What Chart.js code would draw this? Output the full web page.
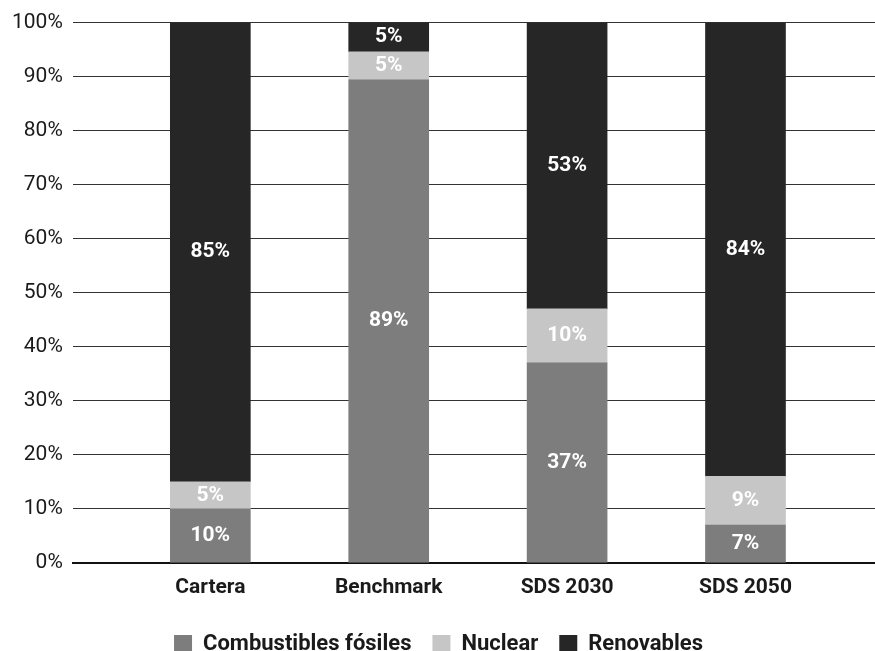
<!DOCTYPE html>
<html>
<head>
<meta charset="utf-8">
<script src="https://cdn.jsdelivr.net/npm/chart.js@4"></script>
<style>
    html, body { margin: 0; padding: 0; background: #fff; }
    #wrap { width: 875px; height: 651px; }
</style>
</head>
<body>
<div id="wrap"><canvas id="mixChart"></canvas></div>
<script>
// Categories and series (% of total)
const categories = ['Cartera', 'Benchmark', 'SDS 2030', 'SDS 2050'];
const fossil = [10, 89.4, 37, 7];
const nuclear = [5, 5.2, 10, 9];
const renewables = [85, 5.4, 53, 84];
const yTicks = [0, 10, 20, 30, 40, 50, 60, 70, 80, 90, 100];

// Grey scale palette like the printed original
const fossilColor = '#7d7d7d';
const nuclearColor = '#c6c6c6';
const renewColor = '#262626';

// bars sit on a linear x scale so the gridlines can run wider than the bars
const toPoints = arr => arr.map((v, i) => ({ x: i, y: v }));

// white value labels in the middle of each segment
const segmentLabels = {
    id: 'segmentLabels',
    afterDatasetsDraw(chart) {
        const ctx = chart.ctx;
        ctx.save();
        ctx.fillStyle = '#ffffff';
        ctx.font = 'bold 21px Roboto';
        ctx.textAlign = 'center';
        ctx.textBaseline = 'middle';
        chart.data.datasets.forEach((ds, di) => {
            chart.getDatasetMeta(di).data.forEach((bar, i) => {
                const p = bar.getProps(['x', 'y', 'base'], true);
                ctx.fillText(Math.round(ds.data[i].y) + '%', p.x, (p.y + p.base) / 2);
            });
        });
        ctx.restore();
    }
};

const ctx = document.getElementById('mixChart').getContext('2d');
new Chart(ctx, {
    type: 'bar',
    data: {
        datasets: [
            { label: 'Combustibles fósiles', data: toPoints(fossil), backgroundColor: fossilColor },
            { label: 'Nuclear', data: toPoints(nuclear), backgroundColor: nuclearColor },
            { label: 'Renovables', data: toPoints(renewables), backgroundColor: renewColor }
        ]
    },
    options: {
        responsive: true,
        maintainAspectRatio: false,
        animation: false,
        layout: { padding: { left: 2, right: 0, top: 10, bottom: -14 } },
        datasets: { bar: { barThickness: 80, borderWidth: 0 } },
        plugins: {
            legend: {
                position: 'bottom',
                labels: {
                    color: '#1a1a1a',
                    font: { family: 'Roboto', size: 22, weight: 'bold' },
                    boxWidth: 18,
                    boxHeight: 18,
                    padding: 21
                }
            },
            tooltip: { enabled: false }
        },
        scales: {
            x: {
                type: 'linear',
                stacked: true,
                offset: false,
                min: -0.771,
                max: 3.726,
                grid: { display: false, drawTicks: false },
                border: { color: '#111', width: 2 },
                afterBuildTicks: scale => {
                    scale.ticks = categories.map((c, i) => ({ value: i }));
                },
                ticks: {
                    color: '#1a1a1a',
                    padding: 12,
                    font: { family: 'Roboto', size: 21, weight: 'bold' },
                    callback: value => categories[value] || ''
                }
            },
            y: {
                stacked: true,
                min: 0,
                max: 100,
                afterBuildTicks: scale => {
                    scale.ticks = yTicks.map(v => ({ value: v }));
                },
                grid: { color: '#333', lineWidth: 1, drawTicks: false },
                border: { display: false },
                ticks: {
                    color: '#1a1a1a',
                    padding: 10,
                    font: { family: 'Roboto', size: 21 },
                    callback: value => value + '%'
                }
            }
        }
    },
    plugins: [segmentLabels]
});
</script>
</body>
</html>
